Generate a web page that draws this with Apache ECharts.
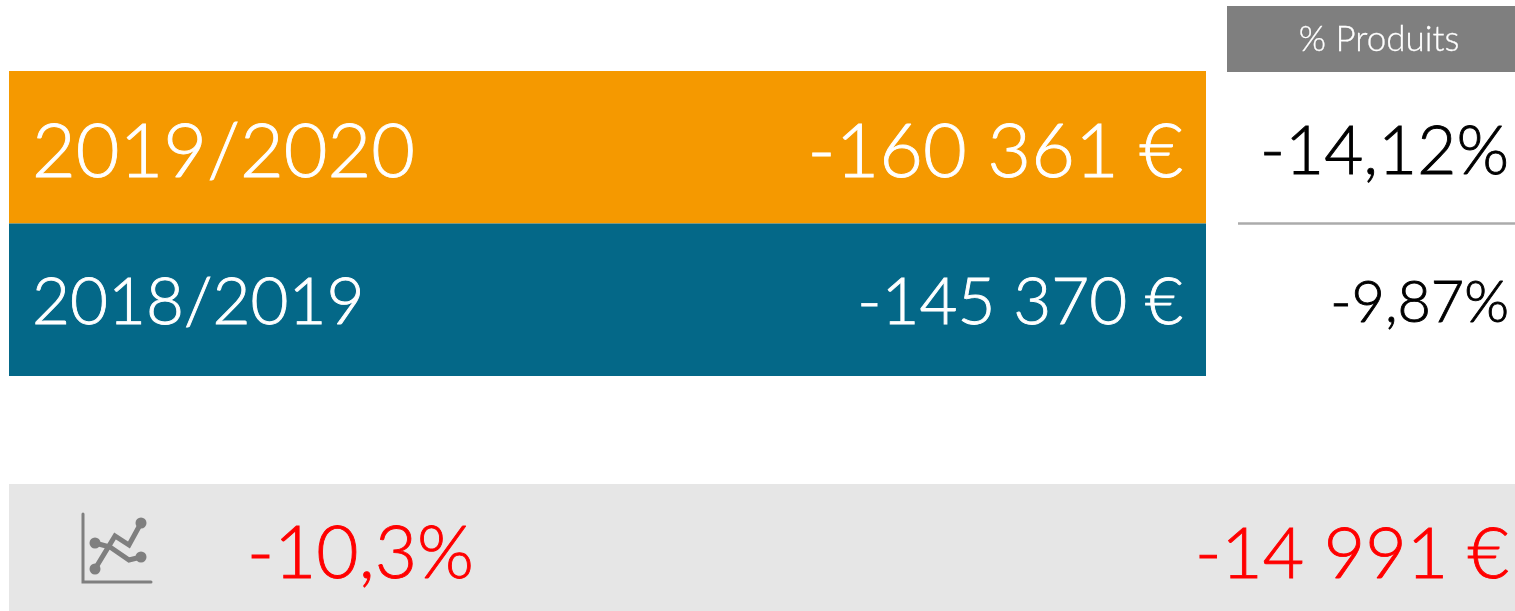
<!DOCTYPE html>
<html>
<head>
<meta charset="utf-8">
<title>Produits</title>
<script src="https://cdn.jsdelivr.net/npm/echarts@6/dist/echarts.min.js"></script>
<style>
  html, body { margin: 0; padding: 0; background: #fff; }
  #chart { width: 1515px; height: 611px; }
</style>
</head>
<body>
<div id="chart"></div>
<script>
// Data
const periods = ['2019/2020', '2018/2019']
const amounts = ['-160 361 €', '-145 370 €']
const percents = ['-14,12%', '-9,87%']
const headerLabel = ['% Produits']
const deltaPercent = ['-10,3%']
const deltaAmount = ['-14 991 €']
// each band fills its row, the rows are table cells and not scaled to the amounts
const rowFill = [1, 1]
const singleFill = [1]

const rowColors = ['#F59900', '#046888']
const rowFont = [75.5, 65.5]
const rowOffset = [5, 3.5]
const iconColor = '#7F7F7F'

// Lato Light with a thin outline gets close to the original stroke weight
const textStyle = (color, fontSize) => ({
  color,
  fontSize,
  fontFamily: 'Lato, sans-serif',
  fontWeight: 300,
  textBorderColor: color,
  textBorderWidth: 0.9
})

const chart = echarts.init(document.getElementById('chart'))

const hiddenX = (gridIndex) => ({ type: 'value', gridIndex, min: 0, max: 1, show: false })
const hiddenY = (gridIndex, data) => ({
  type: 'category', gridIndex, data, inverse: true, show: false
})

chart.setOption({
  animation: false,
  grid: [
    { left: 9, top: 71, width: 1197, height: 305 },
    { left: 1238, top: 71, width: 277, height: 305 },
    { left: 1227, top: 6, width: 288, height: 66 },
    { left: 9, top: 484, width: 1506, height: 127 }
  ],
  xAxis: [hiddenX(0), hiddenX(1), hiddenX(2), hiddenX(3)],
  yAxis: [
    hiddenY(0, periods),
    {
      type: 'category',
      gridIndex: 1,
      data: percents,
      inverse: true,
      axisLine: { show: false },
      axisTick: { show: false },
      axisLabel: { show: false },
      // only the line between the two rows is visible
      splitLine: { show: true, lineStyle: { color: ['transparent', '#ABABAB', 'transparent'], width: 2.5 } }
    },
    hiddenY(2, headerLabel),
    hiddenY(3, deltaPercent)
  ],
  series: [
    {
      name: 'Période',
      type: 'bar',
      xAxisIndex: 0,
      yAxisIndex: 0,
      barWidth: '100%',
      barGap: '-100%',
      data: rowFill.map((v, i) => ({
        value: v,
        itemStyle: { color: rowColors[i] },
        label: { show: true, position: 'insideLeft', distance: 23, offset: [0, rowOffset[i]], formatter: periods[i],
          ...textStyle('#fff', rowFont[i]) }
      }))
    },
    {
      name: 'Montant',
      type: 'bar',
      xAxisIndex: 0,
      yAxisIndex: 0,
      barWidth: '100%',
      barGap: '-100%',
      itemStyle: { color: 'transparent' },
      data: rowFill.map((v, i) => ({
        value: v,
        label: { show: true, position: 'insideRight', distance: 23, offset: [0, rowOffset[i]], formatter: amounts[i],
          ...textStyle('#fff', rowFont[i]) }
      }))
    },
    {
      name: '% Produits',
      type: 'bar',
      xAxisIndex: 1,
      yAxisIndex: 1,
      barWidth: '100%',
      itemStyle: { color: 'transparent' },
      data: rowFill.map((v, i) => ({
        value: v,
        label: { show: true, position: 'insideRight', distance: 6, offset: [0, rowOffset[i]], formatter: percents[i],
          ...textStyle('#000', i === 0 ? 67.5 : 57.5) }
      }))
    },
    {
      name: 'En-tête',
      type: 'bar',
      xAxisIndex: 2,
      yAxisIndex: 2,
      barWidth: '100%',
      itemStyle: { color: '#7F7F7F' },
      label: { show: true, position: 'inside', offset: [8, 1], formatter: '{b}',
        ...textStyle('#fff', 35), textBorderWidth: 0.3 },
      data: singleFill
    },
    {
      name: 'Écart',
      type: 'bar',
      xAxisIndex: 3,
      yAxisIndex: 3,
      barWidth: '100%',
      barGap: '-100%',
      itemStyle: { color: '#E6E6E6' },
      label: { show: true, position: 'insideLeft', distance: 238, offset: [0, 7], formatter: deltaPercent[0],
        ...textStyle('#FF0000', 73) },
      data: singleFill
    },
    {
      name: 'Écart montant',
      type: 'bar',
      xAxisIndex: 3,
      yAxisIndex: 3,
      barWidth: '100%',
      barGap: '-100%',
      itemStyle: { color: 'transparent' },
      label: { show: true, position: 'insideRight', distance: 6, offset: [0, 7], formatter: deltaAmount[0],
        ...textStyle('#FF0000', 71.5) },
      data: singleFill
    }
  ],
  // trend pictogram in the grey band
  graphic: [
    { type: 'polyline', z: 10, shape: { points: [[83, 514], [83, 582], [151, 582]] },
      style: { stroke: iconColor, lineWidth: 3, fill: null, lineCap: 'round' } },
    { type: 'polyline', z: 10, shape: { points: [[95, 569], [115, 536], [129, 545], [141, 523]] },
      style: { stroke: iconColor, lineWidth: 5, fill: null } },
    { type: 'polyline', z: 10, shape: { points: [[95, 543], [110, 547], [129, 560], [141, 557]] },
      style: { stroke: iconColor, lineWidth: 5, fill: null } },
    { type: 'circle', z: 10, shape: { cx: 95, cy: 569, r: 5.5 }, style: { fill: iconColor } },
    { type: 'circle', z: 10, shape: { cx: 141, cy: 523, r: 5.5 }, style: { fill: iconColor } },
    { type: 'circle', z: 10, shape: { cx: 95, cy: 543, r: 5.5 }, style: { fill: iconColor } },
    { type: 'circle', z: 10, shape: { cx: 141, cy: 557, r: 5.5 }, style: { fill: iconColor } }
  ]
})
</script>
</body>
</html>
